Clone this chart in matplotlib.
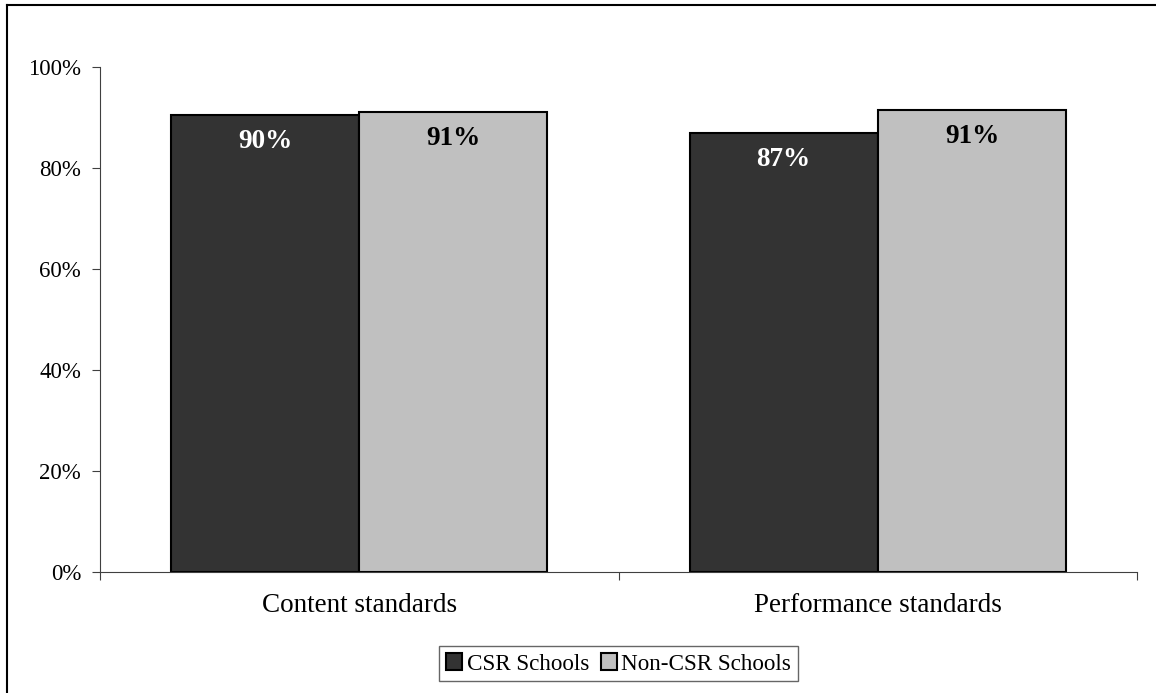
import matplotlib.pyplot as plt
from matplotlib.lines import Line2D
import numpy as np

categories = ['Content standards', 'Performance standards']
csr = [0.904, 0.869]
non_csr = [0.911, 0.914]
series_names = ['CSR Schools', 'Non-CSR Schools']
yticks = [0, 0.2, 0.4, 0.6, 0.8, 1.0]

plt.rcParams['font.family'] = ['Liberation Serif', 'DejaVu Serif']

fig = plt.figure(figsize=(11.56, 6.93), dpi=100)
ax = fig.add_axes([0.0865, 0.1746, 0.8971, 0.7287])

# frame lines along the top and left edge
fig.add_artist(Line2D([0.006, 0.006], [0, 0.993], transform=fig.transFigure, color='black', lw=1.5))
fig.add_artist(Line2D([0.006, 1.0], [0.993, 0.993], transform=fig.transFigure, color='black', lw=1.5))

x = np.arange(len(categories))
w = 0.363
b1 = ax.bar(x - w / 2, csr, w, color='#333333', edgecolor='black', linewidth=1.5, label=series_names[0])
b2 = ax.bar(x + w / 2, non_csr, w, color='#c0c0c0', edgecolor='black', linewidth=1.5, label=series_names[1])

for bars, vals, col in [(b1, csr, 'white'), (b2, non_csr, 'black')]:
    for r, v in zip(bars, vals):
        ax.annotate(f'{v:.0%}', (r.get_x() + r.get_width() / 2, v), xytext=(0, -10),
                    textcoords='offset points', ha='center', va='top',
                    fontsize=19.5, fontweight='bold', color=col)

ax.set_xlim(-0.5, len(categories) - 0.5)
ax.set_ylim(0, 1)
ax.set_yticks(yticks)
ax.set_yticklabels([f'{t:.0%}' for t in yticks], fontsize=16.5)
ax.set_xticks(np.arange(len(categories) + 1) - 0.5)
ax.set_xticklabels([])
ax.set_xticks(x, minor=True)
ax.set_xticklabels(categories, minor=True, fontsize=19.5)
ax.tick_params(axis='x', which='minor', length=0, pad=15)
ax.tick_params(axis='x', which='major', direction='out', length=6, color='#404040')
ax.tick_params(axis='y', direction='out', length=5.5, color='#404040', pad=8)

for s in ['top', 'right']:
    ax.spines[s].set_visible(False)
for s in ['left', 'bottom']:
    ax.spines[s].set_color('#404040')

leg = ax.legend(loc='center', bbox_to_anchor=(0.5, -0.182), ncol=2, fontsize=16.7,
                frameon=True, fancybox=False, edgecolor='#404040',
                handlelength=0.7, handleheight=0.7, handletextpad=0.2,
                columnspacing=0.5, borderpad=0.3)
leg.get_frame().set_linewidth(1.0)

fig.savefig('out.png', dpi=100)
